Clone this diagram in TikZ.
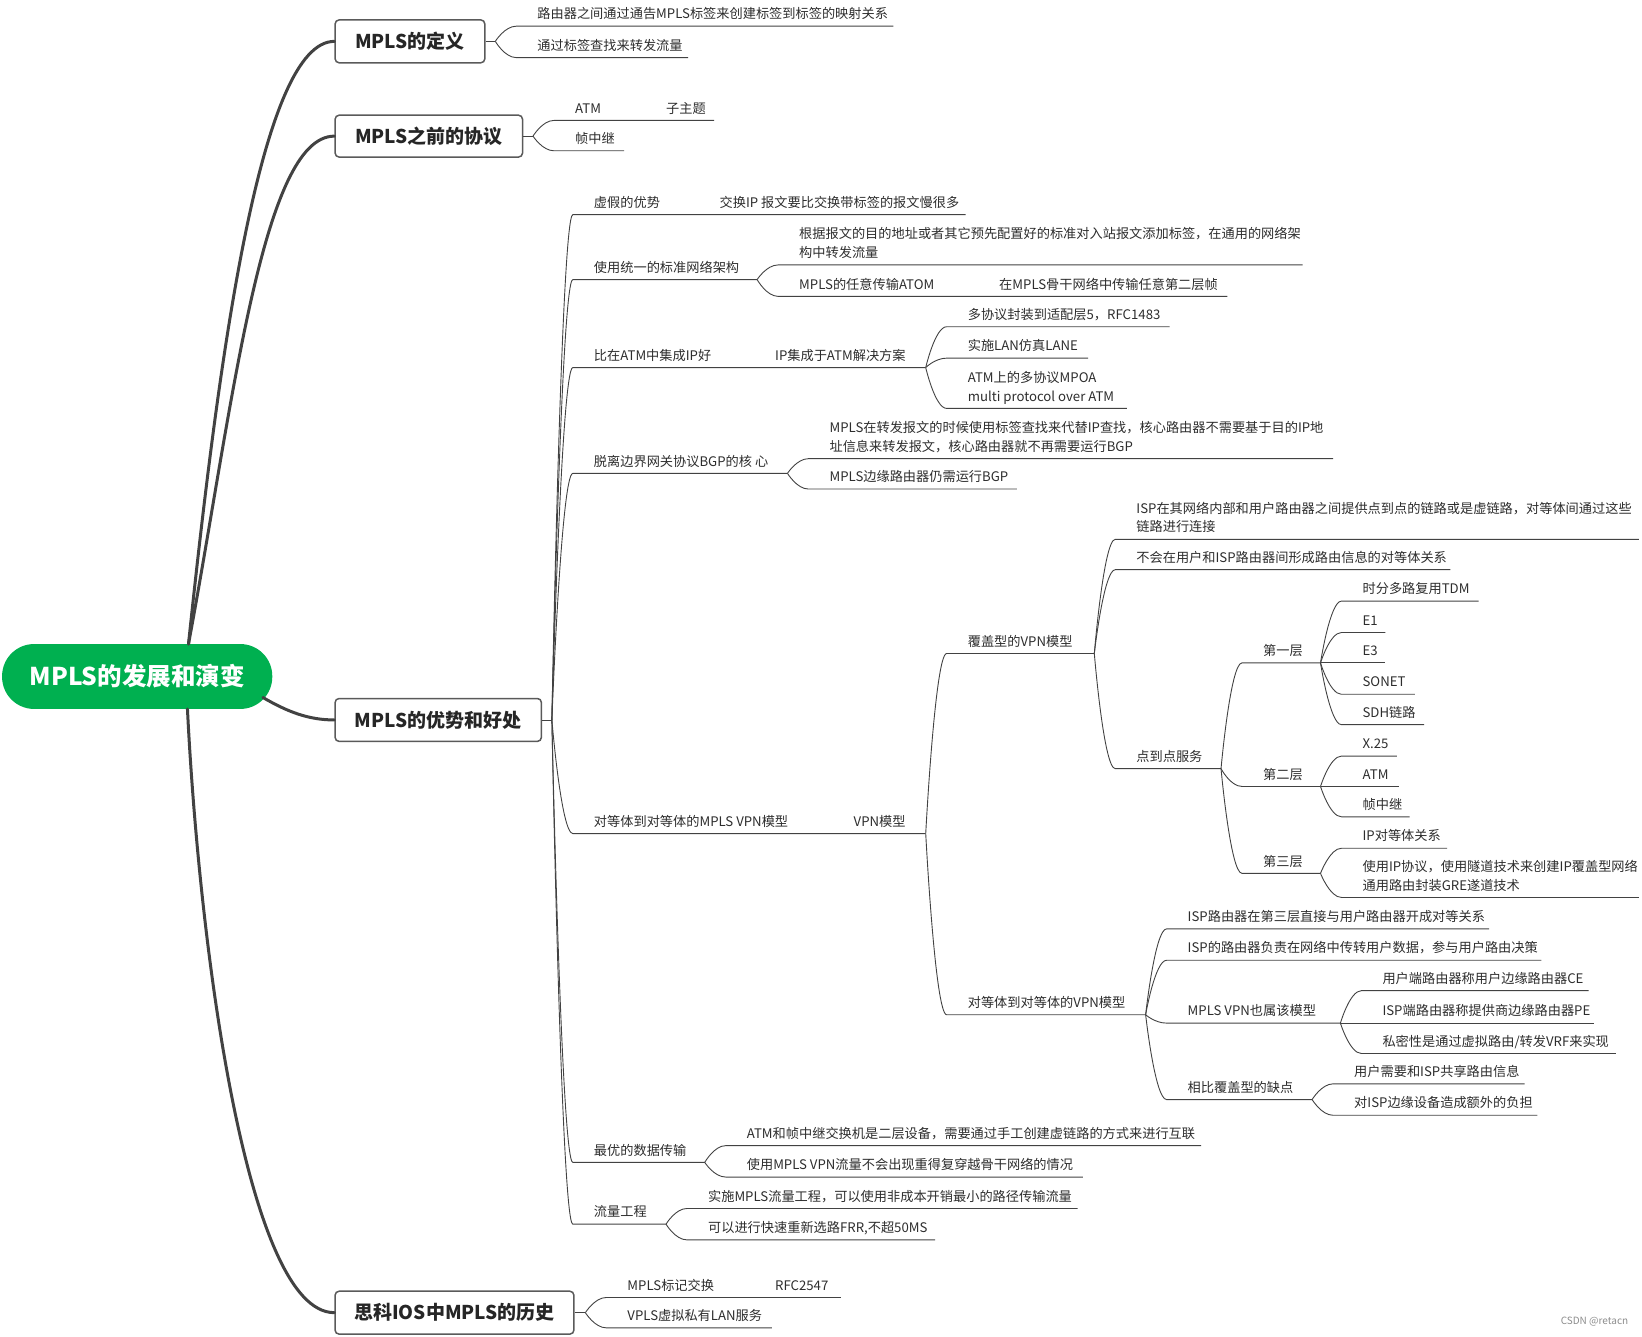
\documentclass[tikz,border=0pt]{standalone}
\usepackage{fontspec}
\setmainfont{Noto Sans CJK SC}
\usetikzlibrary{calc}
\definecolor{rootgreen}{RGB}{0,176,80}
\definecolor{linegray}{RGB}{66,66,66}
\definecolor{txtgray}{RGB}{45,45,45}
\definecolor{boxborder}{RGB}{90,90,90}
\tikzset{
  mainline/.style={draw=linegray,line width=3pt,line cap=round},
  brline/.style={draw=linegray,line width=0.9pt},
  txt/.style={anchor=base west,inner sep=0pt,text=txtgray,font=\fontsize{13.2}{18.8}\selectfont},
  txtii/.style={txt,align=left},
  lonebox/.style={draw=boxborder,line width=1.5pt,rounded corners=4pt,fill=white,inner sep=0pt,
    text=black!85,font=\fontsize{19}{22}\selectfont\bfseries,minimum height=42.9pt},
  rootbox/.style={fill=rootgreen,rounded corners=32pt,inner sep=0pt,minimum width=270.2pt,
    minimum height=64.9pt,text=white,font=\fontsize{24.5}{28}\selectfont\bfseries}
}
% name, parent, y of line, x end of line, text
\newcommand\kid[5]{%
  \coordinate (#1) at (#4,#3);
  \draw[brline] (#2) .. controls (#2) and ($(#2|-#1)+(9,0)$) .. ($(#2|-#1)+(20,0)$) -- (#1);
  \node[txt] (#1t) at ($(#2|-#1)+(40,-7)$) {#5};
}
\newcommand\kidd[5]{%
  \coordinate (#1) at (#4,#3);
  \draw[brline] (#2) .. controls (#2) and ($(#2|-#1)+(9,0)$) .. ($(#2|-#1)+(20,0)$) -- (#1);
  \node[txtii] (#1t) at ($(#2|-#1)+(40,-7)$) {#5};
}
\begin{document}
\begin{tikzpicture}[x=1.0472pt,y=-1.0472pt]
\useasboundingbox (0,0) rectangle (1568,1275.8);

% root and main topics
\node[rootbox] (root) at (131,646) {MPLS的发展和演变};
\node[lonebox,minimum width=149.7pt] (b1) at (391.5,39.5) {MPLS的定义};
\node[lonebox,minimum width=187.4pt,minimum height=41.9pt] (b2) at (409.5,130) {MPLS之前的协议};
\node[lonebox,minimum width=206.3pt] (b3) at (418.5,687.5) {MPLS的优势和好处};
\node[lonebox,minimum width=238.8pt] (b4) at (434,1253.5) {思科IOS中MPLS的历史};

\coordinate (rt) at (180,615);
\coordinate (rb) at (179,677);
\coordinate (rr) at (251,666);
\draw[mainline] (rt) .. controls (210,330) and (250,39.5) .. (b1.west);
\draw[mainline] (rt) .. controls (222,390) and (250,130) .. (b2.west);
\draw[mainline] (rr) .. controls (275,680) and (295,687.5) .. (b3.west);
\draw[mainline] (rb) .. controls (190,900) and (235,1253.5) .. (b4.west);

% branch points
\coordinate (p1) at (473,39.5);
\coordinate (p2) at (509,130);
\coordinate (p3) at (527,687.5);
\coordinate (p4) at (559,1253.5);
\draw[brline] (b1.east) -- (p1);
\draw[brline] (b2.east) -- (p2);
\draw[brline] (b3.east) -- (p3);
\draw[brline] (b4.east) -- (p4);

% MPLS的定义
\kid{d1}{p1}{25}{853}{路由器之间通过通告MPLS标签来创建标签到标签的映射关系}
\kid{d2}{p1}{55}{657}{通过标签查找来转发流量}

% MPLS之前的协议
\kid{a1}{p2}{115}{682}{ATM}
\node[txt] (a1x) at (636,108) {子主题};
\kid{a2}{p2}{144}{596}{帧中继}

% MPLS的优势和好处
\kid{c1}{p3}{205}{922}{虚假的优势}
\node[txt] (c1x) at (687,198) {交换IP 报文要比交换带标签的报文慢很多};
\kid{c2}{p3}{267}{723}{使用统一的标准网络架构}
  \kidd{c21}{c2}{253}{1244}{根据报文的目的地址或者其它预先配置好的标准对入站报文添加标签，在通用的网络架\\构中转发流量}
  \kid{c22}{c2}{283}{1172}{MPLS的任意传输ATOM}
  \node[txt] (c22x) at (954,276) {在MPLS骨干网络中传输任意第二层帧};
\kid{c3}{p3}{351}{884}{比在ATM中集成IP好}
\node[txt] (c3x) at (740,344) {IP集成于ATM解决方案};
  \kid{c31}{c3}{312}{1117}{多协议封装到适配层5，RFC1483}
  \kid{c32}{c3}{342}{1039}{实施LAN仿真LANE}
  \kidd{c33}{c3}{390}{1076}{ATM上的多协议MPOA\\multi protocol over ATM}
\kid{c4}{p3}{452}{752}{脱离边界网关协议BGP的核 心}
  \kidd{c41}{c4}{438}{1273}{MPLS在转发报文的时候使用标签查找来代替IP查找，核心路由器不需要基于目的IP地\\址信息来转发报文，核心路由器就不再需要运行BGP}
  \kid{c42}{c4}{467}{971}{MPLS边缘路由器仍需运行BGP}
\kid{c5}{p3}{796}{884}{对等体到对等体的MPLS VPN模型}
\node[txt] (c5x) at (815,789) {VPN模型};
  \kid{v1}{c5}{624}{1045}{覆盖型的VPN模型}
    \kidd{v11}{v1}{515}{1565}{ISP在其网络内部和用户路由器之间提供点到点的链路或是虚链路，对等体间通过这些\\链路进行连接}
    \kid{v12}{v1}{544}{1385}{不会在用户和ISP路由器间形成路由信息的对等体关系}
    \kid{v13}{v1}{734}{1166}{点到点服务}
      \kid{l1}{v13}{633}{1261}{第一层}
        \kid{l11}{l1}{574}{1412}{时分多路复用TDM}
        \kid{l12}{l1}{604}{1323}{E1}
        \kid{l13}{l1}{633}{1323}{E3}
        \kid{l14}{l1}{663}{1351}{SONET}
        \kid{l15}{l1}{692}{1360}{SDH链路}
      \kid{l2}{v13}{751}{1261}{第二层}
        \kid{l21}{l2}{722}{1334}{X.25}
        \kid{l22}{l2}{751}{1336}{ATM}
        \kid{l23}{l2}{780}{1346}{帧中继}
      \kid{l3}{v13}{834}{1261}{第三层}
        \kid{l31}{l3}{810}{1382}{IP对等体关系}
        \kidd{l32}{l3}{857}{1565}{使用IP协议，使用隧道技术来创建IP覆盖型网络\\通用路由封装GRE遂道技术}
  \kid{v2}{c5}{969}{1094}{对等体到对等体的VPN模型}
    \kid{v21}{v2}{887}{1422}{ISP路由器在第三层直接与用户路由器开成对等关系}
    \kid{v22}{v2}{917}{1472}{ISP的路由器负责在网络中传转用户数据，参与用户路由决策}
    \kid{v23}{v2}{977}{1280}{MPLS VPN也属该模型}
      \kid{v231}{v23}{946}{1517}{用户端路由器称用户边缘路由器CE}
      \kid{v232}{v23}{977}{1522}{ISP端路由器称提供商边缘路由器PE}
      \kid{v233}{v23}{1006}{1543}{私密性是通过虚拟路由/转发VRF来实现}
    \kid{v24}{v2}{1050}{1253}{相比覆盖型的缺点}
      \kid{v241}{v24}{1035}{1456}{用户需要和ISP共享路由信息}
      \kid{v242}{v24}{1065}{1468}{对ISP边缘设备造成额外的负担}
\kid{c6}{p3}{1110}{673}{最优的数据传输}
  \kid{c61}{c6}{1094}{1147}{ATM和帧中继交换机是二层设备，需要通过手工创建虚链路的方式来进行互联}
  \kid{c62}{c6}{1124}{1034}{使用MPLS VPN流量不会出现重得复穿越骨干网络的情况}
\kid{c7}{p3}{1169}{636}{流量工程}
  \kid{c71}{c7}{1154}{1029}{实施MPLS流量工程，可以使用非成本开销最小的路径传输流量}
  \kid{c72}{c7}{1184}{893}{可以进行快速重新选路FRR,不超50MS}

% 思科IOS中MPLS的历史
\kid{h1}{p4}{1239}{803}{MPLS标记交换}
\node[txt] (h1x) at (740,1232) {RFC2547};
\kid{h2}{p4}{1268}{737}{VPLS虚拟私有LAN服务}

\node[anchor=east,inner sep=0pt,text=black!45,font=\fontsize{10}{12}\selectfont] (wm) at (1555,1262) {CSDN @retacn};
\end{tikzpicture}
\end{document}
